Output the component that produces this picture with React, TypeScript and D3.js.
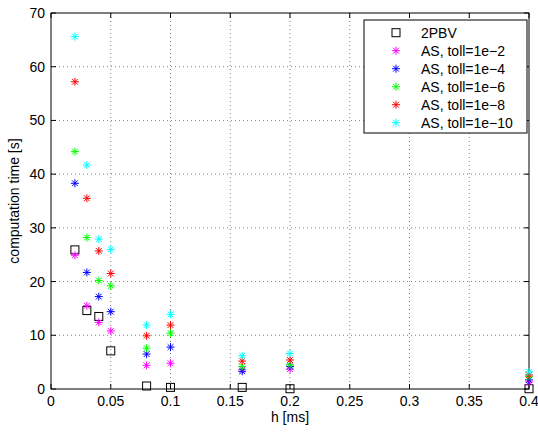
import React from "react";
import * as d3 from "d3";

const hValues = [0.02, 0.03, 0.04, 0.05, 0.08, 0.1, 0.16, 0.2, 0.4];
const pbv2 = [25.9, 14.6, 13.5, 7.1, 0.56, 0.3, 0.3, 0.05, 0.05];
const tol2 = [24.9, 15.5, 12.4, 10.8, 4.4, 4.8, 3.6, 3.7, 1.3];
const tol4 = [38.3, 21.7, 17.2, 14.4, 6.5, 7.8, 3.3, 4.2, 1.7];
const tol6 = [44.2, 28.2, 20.2, 19.2, 7.6, 10.4, 4.2, 4.5, 2.3];
const tol8 = [57.2, 35.5, 25.7, 21.5, 9.9, 11.9, 5.2, 5.4, 2.6];
const tol10 = [65.6, 41.7, 27.9, 26.0, 11.9, 13.9, 6.2, 6.6, 3.2];

const xTicks = [0, 0.05, 0.1, 0.15, 0.2, 0.25, 0.3, 0.35, 0.4];
const yTicks = [0, 10, 20, 30, 40, 50, 60, 70];

const seriesNames = ["2PBV", "AS, toll=1e\u22122", "AS, toll=1e\u22124", "AS, toll=1e\u22126", "AS, toll=1e\u22128", "AS, toll=1e\u221210"];
const seriesValues = [pbv2, tol2, tol4, tol6, tol8, tol10];
const seriesColors = ["#000000", "#ff00ff", "#0000ff", "#00ff00", "#ff0000", "#00ffff"];

const W = 538, H = 432;
const L = 51, R = 529, T = 13, B = 389;
const FONT = "'Liberation Sans', Arial, Helvetica, sans-serif";
const FS = 14;

function Star({ x, y, color }: { x: number; y: number; color: string }) {
  const r = 4;
  const d = r * 0.72;
  return (
    <g stroke={color} strokeWidth={1}>
      <line x1={x - r} y1={y} x2={x + r} y2={y} />
      <line x1={x} y1={y - r} x2={x} y2={y + r} />
      <line x1={x - d} y1={y - d} x2={x + d} y2={y + d} />
      <line x1={x - d} y1={y + d} x2={x + d} y2={y - d} />
    </g>
  );
}

function Square({ x, y }: { x: number; y: number }) {
  const s = 4;
  return <rect x={x - s} y={y - s} width={2 * s} height={2 * s} fill="none" stroke="#000" strokeWidth={1} />;
}

export default function App() {
  const xs = d3.scaleLinear().domain([0, 0.4]).range([L, R]);
  const ys = d3.scaleLinear().domain([0, 70]).range([B, T]);
  const legX = 364, legY = 20, legW = 163, legH = 113;
  return (
    <svg width={W} height={H} style={{ position: "absolute", left: 0, top: 0, background: "#fff" }} fontFamily={FONT}>
      <rect x={0} y={0} width={W} height={H} fill="#fff" />
      {xTicks.slice(1, -1).map((t) => (
        <line key={"gx" + t} x1={xs(t)} x2={xs(t)} y1={T} y2={B} stroke="#000" strokeWidth={0.7} strokeDasharray="1,3" opacity={0.7} />
      ))}
      {yTicks.slice(1, -1).map((t) => (
        <line key={"gy" + t} x1={L} x2={R} y1={ys(t)} y2={ys(t)} stroke="#000" strokeWidth={0.7} strokeDasharray="1,3" opacity={0.7} />
      ))}
      {xTicks.map((t) => (
        <g key={"xt" + t}>
          <line x1={xs(t)} x2={xs(t)} y1={B} y2={B - 5} stroke="#000" />
          <line x1={xs(t)} x2={xs(t)} y1={T} y2={T + 5} stroke="#000" />
          <text x={xs(t)} y={B + 17} textAnchor="middle" fontSize={FS}>{d3.format("")(t)}</text>
        </g>
      ))}
      {yTicks.map((t) => (
        <g key={"yt" + t}>
          <line x1={L} x2={L + 5} y1={ys(t)} y2={ys(t)} stroke="#000" />
          <line x1={R} x2={R - 5} y1={ys(t)} y2={ys(t)} stroke="#000" />
          <text x={L - 6} y={ys(t) + 5} textAnchor="end" fontSize={FS}>{t}</text>
        </g>
      ))}
      <rect x={L} y={T} width={R - L} height={B - T} fill="none" stroke="#000" strokeWidth={1} />
      {seriesValues.map((vals, si) =>
        vals.map((v, i) =>
          si === 0 ? (
            <Square key={si + "-" + i} x={xs(hValues[i])} y={ys(v)} />
          ) : (
            <Star key={si + "-" + i} x={xs(hValues[i])} y={ys(v)} color={seriesColors[si]} />
          )
        )
      )}
      <text x={(L + R) / 2} y={422} textAnchor="middle" fontSize={FS}>h [ms]</text>
      <text transform={`translate(19,${(T + B) / 2}) rotate(-90)`} textAnchor="middle" fontSize={FS}>computation time [s]</text>
      <rect x={legX} y={legY} width={legW} height={legH} fill="#fff" stroke="#000" strokeWidth={1} />
      {seriesNames.map((name, i) => {
        const cy = 32.7 + i * 18;
        return (
          <g key={"lg" + i}>
            {i === 0 ? <Square x={396} y={cy} /> : <Star x={396} y={cy} color={seriesColors[i]} />}
            <text x={421} y={cy + 5} fontSize={FS}>{name}</text>
          </g>
        );
      })}
    </svg>
  );
}
